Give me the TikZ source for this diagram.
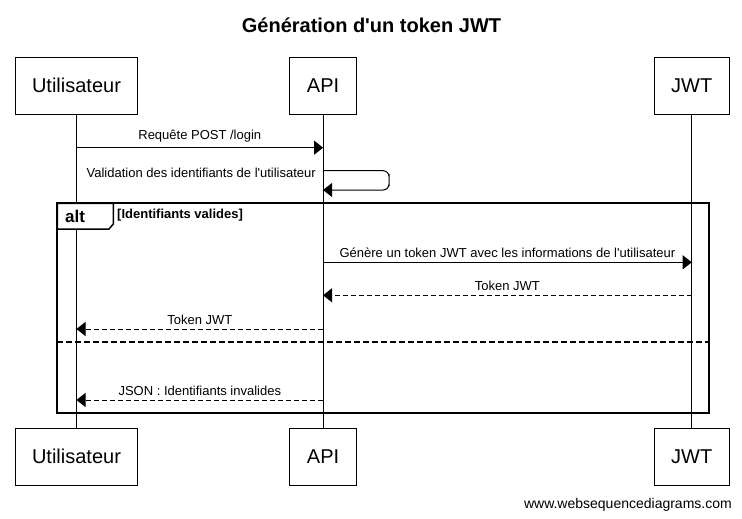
\documentclass[tikz,border=0pt]{standalone}
\usepackage{fontspec}
\setmainfont{Liberation Sans}[Ligatures=TeXOff]
\usetikzlibrary{arrows.meta,positioning}
\tikzset{
    %Define standard arrow tip
    >={Triangle[length=9pt,width=14pt]},
    %Define style for participant boxes
    acteur/.style={
           rectangle,
           draw=black, line width=1pt,
           inner xsep=17pt,
           minimum height=57pt,
           font=\fontsize{20}{24}\selectfont},
    % Define message styles
    msg/.style={
           ->,
           line width=1pt},
    retour/.style={
           msg,
           dash pattern=on 5pt off 3pt},
    etiq/.style={
           inner sep=0pt,
           font=\fontsize{13}{15}\selectfont}
}

\begin{document}
\begin{tikzpicture}[x=1pt, y=-1pt, node distance=0pt]
\useasboundingbox (0,0) rectangle (742,519);
\node[font=\bfseries\fontsize{20}{24}\selectfont, anchor=base] (titre) at (371.5,33) {Génération d'un token JWT};

\node[acteur] (usr) at (76.5,85.6) {Utilisateur};
\node[acteur, right=151pt of usr] (api) {API};
\node[acteur, right=297pt of api] (jwt) {JWT};
\node[acteur, below=313pt of usr] (usrb) {Utilisateur};
\node[acteur, below=313pt of api] (apib) {API};
\node[acteur, below=313pt of jwt] (jwtb) {JWT};

% lignes de vie
\draw[line width=1pt] (usr) -- (usrb);
\draw[line width=1pt] (api) -- (apib);
\draw[line width=1pt] (jwt) -- (jwtb);

% hauteurs des messages
\coordinate (req) at (0,147.7);
\coordinate (val) at (0,170.7);
\coordinate (boucle) at (389,180);
\coordinate (valfin) at (0,190);
\coordinate (gen) at (0,262.3);
\coordinate (tok) at (0,295.3);
\coordinate (tokusr) at (0,329);
\coordinate (sep) at (0,342.3);
\coordinate (json) at (0,400);

\draw[msg] (usr |- req) -- node[etiq, above=5pt] {Requête POST /login} (api |- req);
\draw[msg, rounded corners=6pt] (api |- val) -| (boucle) |- (api |- valfin);
\node[etiq, anchor=base east] (vallbl) at (316,177) {Validation des identifiants de l'utilisateur};

% bloc alt
\coordinate (altno) at (57.3,203.3);
\coordinate (altse) at (709.3,413.3);
\draw[line width=2pt] (altno) rectangle (altse);
\draw[line width=1.5pt, fill=white] (altno) -- (altno |- 0,229) -- (109,229) -- (113.3,224) -- (113.3,203.3) -- cycle;
\node[anchor=base west, inner sep=0pt, font=\bfseries\fontsize{17}{20}\selectfont] (alt) at (65,222.3) {alt};
\node[etiq, anchor=base west, font=\bfseries\fontsize{13}{15}\selectfont] (garde) at (117,218) {[Identifiants valides]};

\draw[msg] (api |- gen) -- node[etiq, above=4pt] {Génère un token JWT avec les informations de l'utilisateur} (jwt |- gen);
\draw[retour] (jwt |- tok) -- node[etiq, above=4pt] {Token JWT} (api |- tok);
\draw[retour] (api |- tokusr) -- node[etiq, above=4pt] {Token JWT} (usr |- tokusr);
\draw[line width=2pt, dash pattern=on 6pt off 3pt] (altno |- sep) -- (altse |- sep);
\draw[retour] (api |- json) -- node[etiq, above=4pt] {JSON : Identifiants invalides} (usr |- json);

\node[anchor=base east, inner sep=0pt, font=\fontsize{14}{16}\selectfont] (site) at (732,508) {www.websequencediagrams.com};
\end{tikzpicture}
\end{document}
